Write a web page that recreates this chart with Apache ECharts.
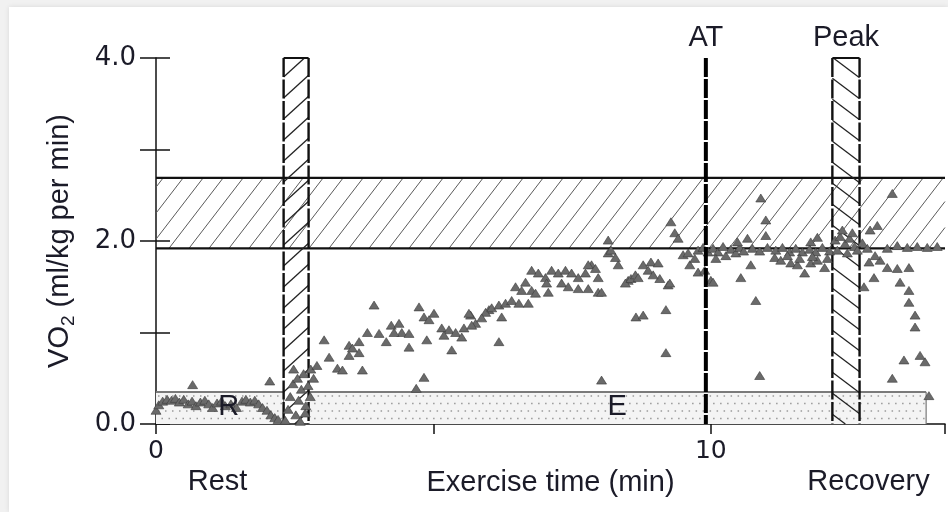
<!DOCTYPE html>
<html>
<head>
<meta charset="utf-8">
<script src="https://cdn.jsdelivr.net/npm/echarts@6/dist/echarts.min.js"></script>
<style>
  html, body { margin: 0; padding: 0; background: #f1f1f1; }
  #panel { position: absolute; left: 9px; top: 7px; width: 939px; height: 505px; background: #fff; box-shadow: 0 0 5px rgba(0,0,0,0.10); }
  #chart { position: absolute; left: 0; top: 0; width: 948px; height: 512px; }
</style>
</head>
<body>
<div id="panel"></div>
<div id="chart"></div>
<script>
// ---- VO2 samples: [time (min), VO2 (ml/kg per min)] ----
const restSamples = [
  [0.00,0.15],[0.05,0.21],[0.12,0.25],[0.20,0.27],[0.28,0.26],[0.35,0.28],[0.42,0.24],[0.50,0.27],
  [0.58,0.22],[0.65,0.25],[0.72,0.20],[0.80,0.24],[0.88,0.26],[0.95,0.22],[1.02,0.18],[1.10,0.23],
  [1.18,0.25],[1.25,0.20],[1.35,0.22],[1.45,0.18],[1.55,0.25],[1.62,0.27],[1.70,0.24],[1.78,0.26],
  [1.85,0.22],[1.92,0.18],[2.00,0.15],[2.07,0.10],[2.14,0.07],[2.20,0.05],[0.66,0.43],[2.05,0.47]
];
const transitionSamples = [
  [2.33,0.04],[2.38,0.16],[2.42,0.30],[2.47,0.44],[2.52,0.10],[2.57,0.26],[2.62,0.38],[2.66,0.55],
  [2.70,0.20],[2.74,0.42],[2.79,0.60],[2.84,0.50],[2.90,0.64],[2.48,0.60],[2.60,0.03],[2.69,0.12],
  [2.55,0.50],[2.78,0.30]
];
const exerciseSamples = [
  [3.03,0.92],[3.12,0.73],[3.27,0.61],[3.36,0.59],[3.72,0.59],[3.48,0.86],[3.48,0.75],[3.66,0.78],
  [3.54,0.83],[3.81,1.00],[3.66,0.90],[3.93,1.30],[4.02,0.99],[4.15,0.90],[4.24,1.08],[4.38,1.10],
  [4.43,1.00],[4.56,0.99],[4.29,1.00],[4.56,0.84],[4.74,1.28],[4.83,1.17],[5.01,1.21],[4.92,1.14],
  [4.88,0.92],[4.83,0.51],[4.69,0.39],[5.15,1.05],[5.28,1.03],[5.40,1.00],[5.51,0.95],[5.33,0.81],
  [5.67,1.19],[5.76,1.10],[5.64,1.21],[6.00,1.25],[6.23,1.17],[6.18,0.90],[8.03,0.48],[5.94,1.22],
  [6.05,1.27],[6.18,1.30],[6.30,1.32],[6.41,1.35],[6.54,1.32],[6.71,1.32],[6.48,1.50],[6.59,1.46],
  [6.77,1.46],[6.84,1.43],[6.66,1.55],[6.77,1.68],[6.89,1.65],[7.02,1.60],[7.13,1.68],[7.25,1.65],
  [7.38,1.68],[7.49,1.65],[7.61,1.60],[7.74,1.65],[7.85,1.74],[7.97,1.60],[7.04,1.54],[7.31,1.54],
  [7.43,1.50],[7.61,1.48],[7.79,1.48],[7.97,1.44],[7.07,1.44],[8.33,1.74],[8.28,1.82],[8.15,1.87],
  [8.15,2.01],[8.20,1.90],[8.51,1.57],[8.46,1.54],[8.56,1.59],[8.64,1.63],[8.65,1.17],[7.79,1.74],
  [7.92,1.70],[8.03,1.44],[5.19,0.97],[5.55,1.05],[5.87,1.16],[5.69,1.08],
  [9.28,2.21],[9.35,2.09],[9.41,2.03],[9.50,1.85],[9.59,1.87],[9.62,1.74],[9.77,1.66],[10.00,1.57],
  [8.78,1.74],[8.92,1.77],[9.05,1.76],[8.69,1.60],[9.08,1.59],[9.23,1.52],[8.78,1.19],[9.19,1.25],
  [9.19,0.78],[9.26,1.54],[9.89,1.68],[10.04,1.55],[8.87,1.68],[8.96,1.63],
  [9.77,1.90],[9.86,1.93],[9.95,1.88],[10.04,1.92],[10.13,1.88],[10.22,1.94],[10.27,1.84],[10.36,1.91],
  [10.45,1.87],[10.52,1.93],[10.59,1.89],[9.71,1.81],[10.09,1.81],
  [10.90,2.47],[10.99,2.23],[10.99,2.06],[10.66,2.03],[10.48,1.99],[10.72,1.74],[10.54,1.60],[10.81,1.35],
  [10.88,0.53],[11.15,1.82],[11.26,1.79],[11.44,1.76],[11.56,1.74],[11.69,1.65],[11.80,1.76],[11.92,1.79],
  [12.05,1.71],[11.92,2.04],[11.80,1.99],
  [10.75,1.92],[10.88,1.89],[11.02,1.93],[11.17,1.90],[11.29,1.93],[11.42,1.88],[11.53,1.92],[11.65,1.88],
  [11.78,1.91],[11.89,1.88],[12.01,1.93],[12.14,1.89],[11.38,1.84],[11.60,1.81],[11.83,1.83],[12.10,1.81]
];
const recoverySamples = [
  [12.24,2.01],[12.33,2.05],[12.42,1.97],[12.50,2.03],[12.59,1.94],[12.28,1.90],[12.46,1.87],[12.64,1.90],
  [12.37,2.12],[12.55,2.09],[12.73,1.98],[12.82,1.92],
  [13.27,2.52],[13.00,2.17],[12.87,2.12],[13.36,1.95],[13.18,1.92],[13.54,1.93],[13.72,1.94],[13.90,1.93],
  [14.08,1.94],[13.05,1.79],[13.18,1.71],[13.36,1.70],[13.57,1.71],[12.94,1.60],[12.76,1.50],[13.41,1.55],
  [13.57,1.46],[13.57,1.33],[13.68,1.19],[13.68,1.06],[13.48,0.70],[13.77,0.75],[13.86,0.68],[13.27,0.50],
  [13.93,0.31],[12.96,1.84],[12.85,1.77]
];

// ---- reference zones and markers ----
const targetBand = [1.92, 2.69];          // VO2 range of the shaded band
const restWindow = [2.30, 2.75];          // rest sampling window (min)
const peakWindow = [12.19, 12.68];        // peak sampling window (min)
const atTime = 9.91;                      // anaerobic threshold (min)
const restBox = [0, 2.30];
const exerciseBox = [2.75, 13.88];
const boxTop = 0.35;
const boxNames = ['R', 'E'];
const boxNameTimes = [1.31, 8.31];
const phaseNames = ['Rest', 'Recovery'];
const phaseNameTimes = [1.11, 12.84];

// ---- axes ----
const xMax = 14.22;
const xTickValues = [0, 5, 10];
const xTickLabels = ['0', '', '10'];
const yTickValues = [0, 1, 2, 3, 4];
const yTickLabels = ['0.0', '', '2.0', '', '4.0'];

const INK = '#1b1b28';
const WORD_FONT = '"Liberation Sans", Arial, sans-serif';
const NUM_FONT = '"DejaVu Sans", sans-serif';

// Diagonal hatching clipped to a pixel rect; w/h give the line period
// horizontally/vertically, so the slope is h/w.
function hatchLines(r, w, h, rising, style) {
  const s = h / w;
  const x0 = r.x, x1 = r.x + r.w, y0 = r.y, y1 = r.y + r.h;
  const out = [];
  if (rising) {           // y = c - s*x
    const cMin = y0 + s * x0, cMax = y1 + s * x1;
    for (let c = Math.ceil(cMin / h) * h; c <= cMax; c += h) {
      const a = Math.max(x0, (c - y1) / s), b = Math.min(x1, (c - y0) / s);
      if (b > a) out.push({ type: 'line', shape: { x1: a, y1: c - s * a, x2: b, y2: c - s * b }, style: style });
    }
  } else {                // y = c + s*x
    const cMin = y0 - s * x1, cMax = y1 - s * x0;
    for (let c = Math.ceil(cMin / h) * h; c <= cMax; c += h) {
      const a = Math.max(x0, (y0 - c) / s), b = Math.min(x1, (y1 - c) / s);
      if (b > a) out.push({ type: 'line', shape: { x1: a, y1: c + s * a, x2: b, y2: c + s * b }, style: style });
    }
  }
  return out;
}

// Stipple fill: rows of dots drawn as dashed lines, alternate rows staggered
function stipple(r) {
  const out = [{ type: 'rect', shape: { x: r.x, y: r.y, width: r.w, height: r.h }, style: { fill: '#f4f4f4' } }];
  let row = 0;
  for (let y = r.y + 4; y < r.y + r.h - 1; y += 7.5, row++) {
    out.push({ type: 'line', shape: { x1: r.x + 2, y1: y, x2: r.x + r.w - 1, y2: y },
      style: { stroke: '#9a9a9a', lineWidth: 1.5, lineDash: [1.5, 5.5], lineDashOffset: row % 2 ? 3.5 : 0 } });
  }
  return out;
}

function corners(api, x0, x1, y0, y1) {
  const a = api.coord([x0, y1]);
  const b = api.coord([x1, y0]);
  return { x: a[0], y: a[1], w: b[0] - a[0], h: b[1] - a[1] };
}

const chart = echarts.init(document.getElementById('chart'), null, { renderer: 'canvas' });

chart.setOption({
  animation: false,
  backgroundColor: 'transparent',
  grid: { left: 156, top: 58, width: 792, height: 366, containLabel: false },
  xAxis: {
    type: 'value', min: 0, max: xMax, interval: 5,
    axisLine: { lineStyle: { color: '#111', width: 1.5 } },
    axisTick: { length: 10, lineStyle: { color: '#111', width: 1.5 } },
    axisLabel: {
      margin: 15, fontSize: 25, fontFamily: NUM_FONT, color: INK,
      formatter: v => { const i = xTickValues.indexOf(v); return i < 0 ? '' : xTickLabels[i]; }
    },
    splitLine: { show: false },
    name: 'Exercise time (min)', nameLocation: 'middle', nameGap: 43,
    nameTextStyle: { fontSize: 29, fontFamily: WORD_FONT, color: INK }
  },
  yAxis: [{
    type: 'value', min: 0, max: 4, interval: 1, position: 'left',
    axisLine: { show: true, lineStyle: { color: '#111', width: 1.5 } },
    axisTick: { length: 16, lineStyle: { color: '#111', width: 1.5 } },
    axisLabel: {
      margin: 20, fontSize: 26, fontFamily: NUM_FONT, color: INK,
      formatter: v => { const i = yTickValues.indexOf(v); return i < 0 ? '' : yTickLabels[i]; }
    },
    splitLine: { show: false },
    name: '{v|VO}{s|2}{v| (ml/kg per min)}', nameLocation: 'middle', nameGap: 78, nameRotate: 90,
    nameTextStyle: {
      rich: {
        v: { fontSize: 29, fontFamily: WORD_FONT, color: INK },
        s: { fontSize: 19, fontFamily: WORD_FONT, color: INK, padding: [18, 0, 0, 0], verticalAlign: 'bottom' }
      }
    }
  }, {
    type: 'value', min: 0, max: 4, interval: 1, position: 'left',
    axisLine: { show: false },
    axisTick: { inside: true, length: 14, lineStyle: { color: '#111', width: 1.5 } },
    axisLabel: { show: false },
    splitLine: { show: false }
  }],
  series: [
    // stippled baseline boxes for rest and exercise
    {
      type: 'custom', z: 1, silent: true,
      data: [[restBox[0], restBox[1], 0, boxTop], [exerciseBox[0], exerciseBox[1], 0, boxTop]],
      renderItem: (params, api) => {
        const r = corners(api, api.value(0), api.value(1), api.value(2), api.value(3));
        return { type: 'group', children: stipple(r).concat([
          { type: 'line', shape: { x1: r.x, y1: r.y, x2: r.x + r.w, y2: r.y }, style: { stroke: '#7a7a7a', lineWidth: 2 } },
          { type: 'line', shape: { x1: r.x + r.w, y1: r.y, x2: r.x + r.w, y2: r.y + r.h }, style: { stroke: '#7a7a7a', lineWidth: 1.2 } }
        ]) };
      }
    },
    // hatched target band
    {
      type: 'custom', z: 2, silent: true,
      data: [[0, xMax, targetBand[0], targetBand[1]]],
      renderItem: (params, api) => {
        const r = corners(api, api.value(0), api.value(1), api.value(2), api.value(3));
        return { type: 'group', children: hatchLines(r, 20, 26, true, { stroke: '#5a5a5a', lineWidth: 1 }).concat([
          { type: 'line', shape: { x1: r.x, y1: r.y, x2: r.x + r.w, y2: r.y }, style: { stroke: '#111', lineWidth: 2.2 } },
          { type: 'line', shape: { x1: r.x, y1: r.y + r.h, x2: r.x + r.w, y2: r.y + r.h }, style: { stroke: '#111', lineWidth: 2.2 } }
        ]) };
      }
    },
    // rest and peak sampling windows
    {
      type: 'custom', z: 3, silent: true,
      data: [[restWindow[0], restWindow[1], 0, 4, 0], [peakWindow[0], peakWindow[1], 0, 4, 1]],
      renderItem: (params, api) => {
        const r = corners(api, api.value(0), api.value(1), api.value(2), api.value(3));
        const isPeak = api.value(4) === 1;
        const hatch = isPeak ? hatchLines(r, 28, 21, false, { stroke: '#222', lineWidth: 1.3 })
                             : hatchLines(r, 23, 21, true, { stroke: '#222', lineWidth: 1.3 });
        const edge = { stroke: '#111', lineWidth: 2.4, lineDash: [19, 2.5] };
        return { type: 'group', children: hatch.concat([
          { type: 'line', shape: { x1: r.x, y1: r.y, x2: r.x, y2: r.y + r.h }, style: edge },
          { type: 'line', shape: { x1: r.x + r.w, y1: r.y, x2: r.x + r.w, y2: r.y + r.h }, style: edge },
          { type: 'line', shape: { x1: r.x, y1: r.y, x2: r.x + r.w, y2: r.y }, style: { stroke: '#111', lineWidth: 2 } }
        ]) };
      }
    },
    // VO2 samples
    {
      type: 'scatter', z: 4, silent: true,
      symbol: 'triangle', symbolSize: [10, 8],
      itemStyle: { color: '#6a6a6a', borderColor: '#3a3a3a', borderWidth: 0.6, opacity: 1 },
      data: restSamples.concat(transitionSamples, exerciseSamples, recoverySamples)
    },
    // anaerobic threshold line with window captions
    {
      type: 'custom', z: 5, silent: true,
      data: [[atTime], [(peakWindow[0] + peakWindow[1]) / 2]],
      renderItem: (params, api) => {
        const top = api.coord([api.value(0), 4]);
        const bot = api.coord([api.value(0), 0]);
        const label = params.dataIndex === 0 ? 'AT' : 'Peak';
        const kids = [{ type: 'text', style: { text: label, x: top[0], y: top[1] - 20, fill: INK, font: '29px ' + WORD_FONT, align: 'center', verticalAlign: 'middle' } }];
        if (params.dataIndex === 0) {
          kids.unshift({ type: 'line', shape: { x1: top[0], y1: top[1], x2: bot[0], y2: bot[1] }, style: { stroke: '#000', lineWidth: 4, lineDash: [19, 2] } });
        }
        return { type: 'group', children: kids };
      }
    },
    // box letters
    {
      type: 'custom', z: 6, silent: true,
      data: boxNameTimes.map((t, i) => [t, 0.19, i]),
      renderItem: (params, api) => {
        const p = api.coord([api.value(0), api.value(1)]);
        return { type: 'text', style: { text: boxNames[api.value(2)], x: p[0], y: p[1], fill: INK, font: '29px ' + WORD_FONT, align: 'center', verticalAlign: 'middle' } };
      }
    },
    // phase captions below the time axis
    {
      type: 'custom', z: 6, silent: true,
      data: phaseNameTimes.map((t, i) => [t, 0, i]),
      renderItem: (params, api) => {
        const p = api.coord([api.value(0), 0]);
        return { type: 'text', style: { text: phaseNames[api.value(2)], x: p[0], y: p[1] + 58, fill: INK, font: '29px ' + WORD_FONT, align: 'center', verticalAlign: 'middle' } };
      }
    }
  ]
});
</script>
</body>
</html>
